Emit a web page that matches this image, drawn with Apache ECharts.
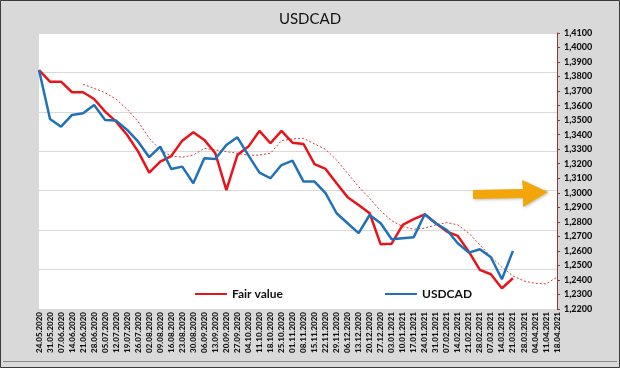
<!DOCTYPE html>
<html>
<head>
<meta charset="utf-8">
<script src="https://cdn.jsdelivr.net/npm/echarts@6/dist/echarts.min.js"></script>
<style>
html,body{margin:0;padding:0;background:#d9d9d9;}
#c{width:620px;height:368px;}
</style>
</head>
<body>
<div id="c"></div>
<script>
var categories = ['24.05.2020','31.05.2020','07.06.2020','14.06.2020','21.06.2020','28.06.2020','05.07.2020','12.07.2020','19.07.2020','26.07.2020','02.08.2020','09.08.2020','16.08.2020','23.08.2020','30.08.2020','06.09.2020','13.09.2020','20.09.2020','27.09.2020','04.10.2020','11.10.2020','18.10.2020','25.10.2020','01.11.2020','08.11.2020','15.11.2020','22.11.2020','29.11.2020','06.12.2020','13.12.2020','20.12.2020','27.12.2020','03.01.2021','10.01.2021','17.01.2021','24.01.2021','31.01.2021','07.02.2021','14.02.2021','21.02.2021','28.02.2021','07.03.2021','14.03.2021','21.03.2021','28.03.2021','04.04.2021','11.04.2021','18.04.2021'];

var fairValue = [1.3845,1.3765,1.3765,1.3692,1.3692,1.3646,1.3559,1.3490,1.3398,1.3283,1.3139,1.3214,1.3253,1.3359,1.3417,1.3364,1.3272,1.3019,1.3260,1.3318,1.3426,1.3341,1.3426,1.3345,1.3336,1.3198,1.3164,1.3066,1.2970,1.2916,1.2859,1.2645,1.2650,1.2779,1.2818,1.2852,1.2790,1.2733,1.2703,1.2595,1.2469,1.2439,1.2343,1.2412];

var usdcad = [1.3845,1.3508,1.3455,1.3536,1.3547,1.3604,1.3501,1.3497,1.3433,1.3352,1.3245,1.3318,1.3164,1.3180,1.3066,1.3238,1.3233,1.3329,1.3382,1.3258,1.3139,1.3100,1.3191,1.3221,1.3077,1.3077,1.2997,1.2859,1.2790,1.2722,1.2847,1.2790,1.2680,1.2687,1.2694,1.2852,1.2790,1.2744,1.2653,1.2588,1.2611,1.2556,1.2405,1.2600];

var fairTrend = [null,null,null,null,1.3747,1.3719,1.3689,1.3644,1.3575,1.3490,1.3375,1.3295,1.3253,1.3245,1.3260,1.3306,1.3295,1.3283,1.3272,1.3258,1.3260,1.3272,1.3359,1.3371,1.3375,1.3336,1.3299,1.3226,1.3134,1.3042,1.2962,1.2875,1.2808,1.2767,1.2749,1.2756,1.2779,1.2795,1.2779,1.2722,1.2641,1.2561,1.2488,1.2428,1.2393,1.2377,1.2373,1.2419];

var yMin = 1.22, yMax = 1.41, yStep = 0.01;

var chart = echarts.init(document.getElementById('c'), null, {renderer:'canvas'});
var FONT = 'Lato, "Open Sans", sans-serif';
chart.setOption({
  backgroundColor: '#d9d9d9',
  animation: false,
  textStyle: {fontFamily: FONT},
  title: {
    text: 'USDCAD', left: 'center', top: 7,
    textStyle: {fontFamily: FONT, fontSize: 15, fontWeight: 'normal', color: '#111'}
  },
  legend: [
    {data: ['Fair value'], left: 190, top: 283, icon: 'rect', itemWidth: 32, itemHeight: 2, itemGap: 0,
     textStyle: {fontFamily: FONT, fontSize: 12, fontWeight: 'bold', color: '#111'}},
    {data: ['USDCAD'], left: 380, top: 283, icon: 'rect', itemWidth: 32, itemHeight: 2, itemGap: 0,
     textStyle: {fontFamily: FONT, fontSize: 12, fontWeight: 'bold', color: '#111'}}
  ],
  grid: {left: 39, right: 63, top: 33, bottom: 59, show: true, backgroundColor: '#ffffff', borderWidth: 0},
  xAxis: {
    type: 'category', data: categories, boundaryGap: false,
    axisLine: {show: false}, axisTick: {show: false},
    axisLabel: {interval: 0, rotate: 90, fontSize: 8, fontWeight: 900, color: '#111', margin: 3, fontFamily: FONT}
  },
  yAxis: [
    {type: 'value', position: 'right', min: yMin, max: yMax, interval: yStep,
     axisLine: {show: true, lineStyle: {color: '#8b3a3a', width: 1}},
     axisTick: {show: true, length: 3, inside: false, lineStyle: {color: '#8b3a3a'}},
     splitLine: {show: false},
     axisLabel: {fontSize: 9, fontWeight: 900, color: '#111', margin: 7, fontFamily: FONT,
       formatter: function(v){ return v.toFixed(4).replace('.', ','); }}
    },
    {type: 'value', position: 'left', min: 0, max: 7, interval: 1,
     axisLine: {show: false}, axisTick: {show: false}, axisLabel: {show: false},
     splitLine: {show: true, lineStyle: {color: '#d9d9d9', width: 1}}
    }
  ],
  series: [
    {name: 'Fair value', type: 'line', data: fairValue, yAxisIndex: 0, symbol: 'none',
     lineStyle: {color: '#e8141b', width: 2.5}, itemStyle: {color: '#e8141b'}, z: 3},
    {name: 'USDCAD', type: 'line', data: usdcad, yAxisIndex: 0, symbol: 'none',
     lineStyle: {color: '#1f72b8', width: 2.5}, itemStyle: {color: '#1f72b8'}, z: 4},
    {name: 'Trend', type: 'line', data: fairTrend, yAxisIndex: 0, symbol: 'none',
     lineStyle: {color: '#d0403a', width: 1, type: [2, 2]}, z: 2}
  ],
  graphic: [
    {type: 'polygon', silent: true, z: 10,
     shape: {points: [[473,190],[523,189],[522,180],[548,192],[523,207],[523,198],[473,199]]},
     style: {fill: '#f2a60a', shadowBlur: 3, shadowColor: 'rgba(0,0,0,0.25)', shadowOffsetX: 1, shadowOffsetY: 1}},
    {type: 'rect', silent: true, z: 10,
     shape: {x: 0.5, y: 0.5, width: 619, height: 367},
     style: {fill: 'none', stroke: '#3a3a3a', lineWidth: 1}},
    {type: 'line', silent: true, z: 10,
     shape: {x1: 3, y1: 361.5, x2: 617, y2: 361.5},
     style: {stroke: '#8a8a8a', lineWidth: 1}}
  ]
});
</script>
</body>
</html>
